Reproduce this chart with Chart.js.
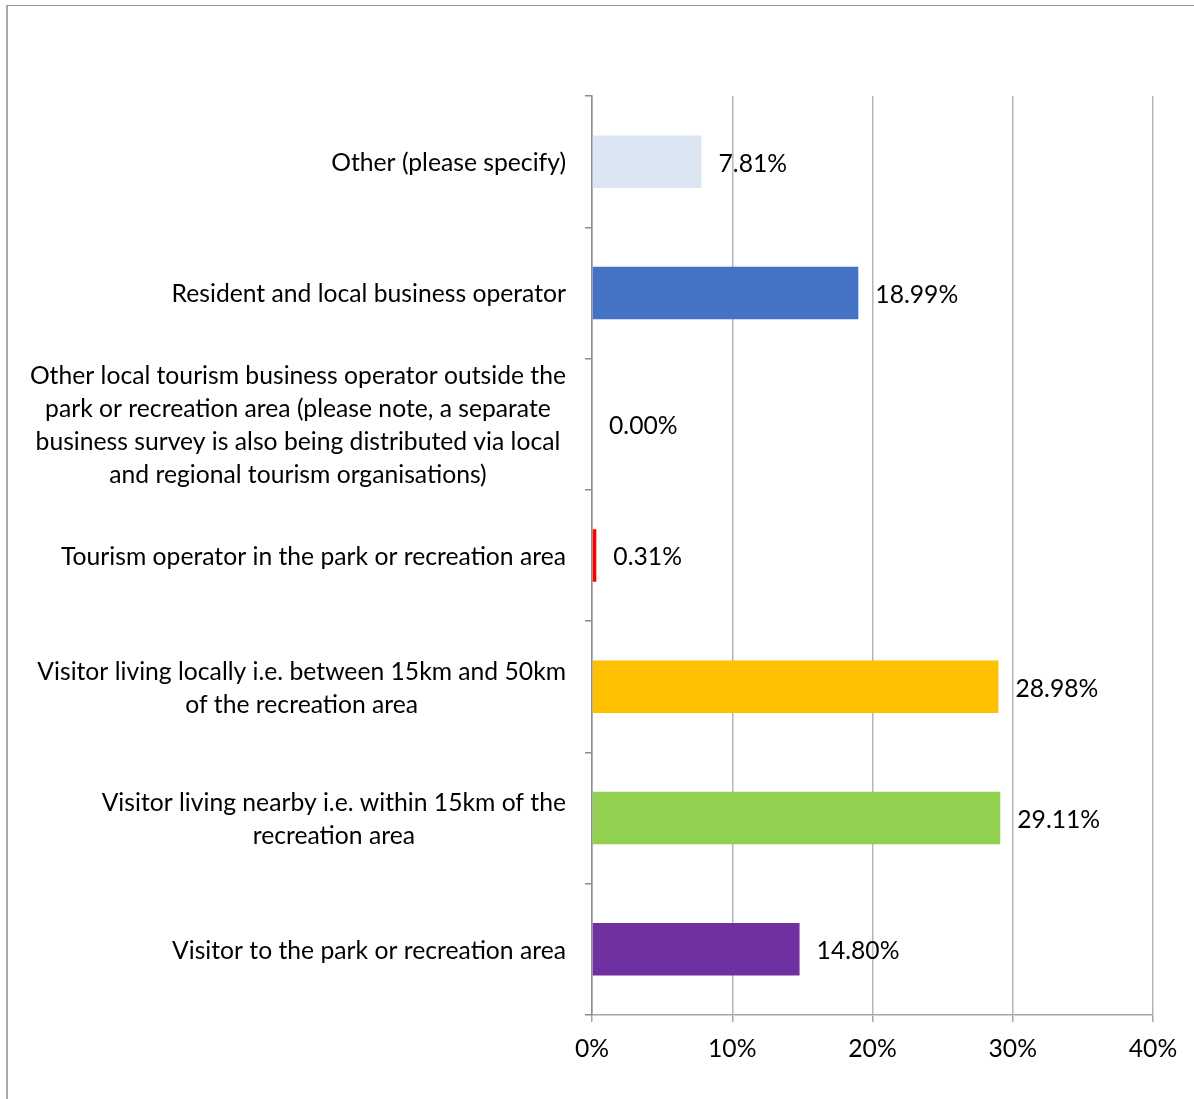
<!DOCTYPE html>
<html>
<head>
<meta charset="utf-8">
<script src="https://cdn.jsdelivr.net/npm/chart.js@4.4.1/dist/chart.umd.min.js"></script>
<style>
  html, body { margin: 0; padding: 0; background: #ffffff; overflow: hidden; }
  #wrap { position: relative; width: 1194px; height: 1099px; }
  #wrap canvas { position: absolute; left: 0; top: 0; }
  #frame {
    position: absolute; left: 6px; top: 5px; width: 1300px; height: 1200px;
    border-top: 1px solid #9c9c9c; border-left: 2px solid #ababab;
    pointer-events: none;
  }
</style>
</head>
<body>
<div id="wrap">
  <canvas id="chart" width="1194" height="1099"></canvas>
  <div id="frame"></div>
</div>
<script>
// Respondent type (survey question), top to bottom
const categories = [
  'Other (please specify)',
  'Resident and local business operator',
  ['Other local tourism business operator outside the',
   'park or recreation area (please note, a separate',
   'business survey is also being distributed via local',
   'and regional tourism organisations)'],
  'Tourism operator in the park or recreation area',
  ['Visitor living locally i.e. between 15km and 50km',
   'of the recreation area'],
  ['Visitor living nearby i.e. within 15km of the',
   'recreation area'],
  'Visitor to the park or recreation area'
];

// Share of respondents, percent
const shares = [7.81, 18.99, 0.00, 0.31, 28.98, 29.11, 14.80];

// Axis ticks, percent
const xTickValues = [0, 10, 20, 30, 40];

const barColors = ['#dce6f2', '#4472c4', '#a5a5a5', '#ff0000', '#ffc000', '#92d050', '#7030a0'];

const FONT_FAMILY = 'Lato, "Open Sans", sans-serif';
const FONT_SIZE = 24.7;
const LINE_GAP = 33;

// Category names: each block right-aligned to the axis, its lines centred
const categoryLabels = {
  id: 'categoryLabels',
  afterDraw(chart) {
    const scale = chart.scales.y;
    const ctx = chart.ctx;
    ctx.save();
    ctx.font = FONT_SIZE + 'px ' + FONT_FAMILY;
    ctx.fillStyle = '#000000';
    ctx.textAlign = 'center';
    ctx.textBaseline = 'middle';
    const rightEdge = scale.right - 26;
    categories.forEach((label, i) => {
      const lines = Array.isArray(label) ? label : [label];
      const widest = Math.max(...lines.map(l => ctx.measureText(l).width));
      const cx = rightEdge - widest / 2;
      const cy = scale.getPixelForTick(i) + 1.5;
      lines.forEach((line, j) => {
        ctx.fillText(line, cx, cy + (j - (lines.length - 1) / 2) * LINE_GAP);
      });
    });
    ctx.restore();
  }
};

// Percent value printed after each bar
const valueLabels = {
  id: 'valueLabels',
  afterDatasetsDraw(chart) {
    const ctx = chart.ctx;
    const meta = chart.getDatasetMeta(0);
    ctx.save();
    ctx.font = FONT_SIZE + 'px ' + FONT_FAMILY;
    ctx.fillStyle = '#000000';
    ctx.textAlign = 'left';
    ctx.textBaseline = 'middle';
    meta.data.forEach((bar, i) => {
      ctx.fillText(shares[i].toFixed(2) + '%', bar.x + 17, bar.y + 2);
    });
    ctx.restore();
  }
};

new Chart(document.getElementById('chart'), {
  type: 'bar',
  data: {
    labels: categories,
    datasets: [{
      data: shares,
      backgroundColor: barColors,
      borderWidth: 0,
      barPercentage: 0.4,
      categoryPercentage: 1.0
    }]
  },
  options: {
    indexAxis: 'y',
    responsive: false,
    devicePixelRatio: 1,
    animation: false,
    layout: { padding: { top: 96, right: 41, left: 0, bottom: 0 } },
    plugins: {
      legend: { display: false },
      tooltip: { enabled: false }
    },
    scales: {
      x: {
        type: 'linear',
        min: 0,
        max: 40,
        afterBuildTicks(scale) {
          scale.ticks = xTickValues.map(v => ({ value: v }));
        },
        afterFit(scale) { scale.height = 84; },
        grid: {
          color: '#b5b5b5',
          lineWidth: 1.5,
          drawTicks: true,
          tickLength: 7,
          tickColor: '#a6a6a6'
        },
        border: { display: true, color: '#a6a6a6', width: 1.5 },
        ticks: {
          color: '#000000',
          padding: 12,
          font: { family: FONT_FAMILY, size: FONT_SIZE },
          maxRotation: 0,
          callback: v => v + '%'
        }
      },
      y: {
        type: 'category',
        offset: true,
        afterFit(scale) { scale.width = 592; },
        grid: {
          offset: true,
          drawOnChartArea: false,
          drawTicks: true,
          tickLength: 7,
          tickColor: '#8c8c8c',
          lineWidth: 1.5
        },
        border: { display: true, color: '#8c8c8c', width: 1.5 },
        ticks: {
          color: 'rgba(0,0,0,0)',
          font: { family: FONT_FAMILY, size: FONT_SIZE }
        }
      }
    }
  },
  plugins: [categoryLabels, valueLabels]
});
</script>
</body>
</html>
